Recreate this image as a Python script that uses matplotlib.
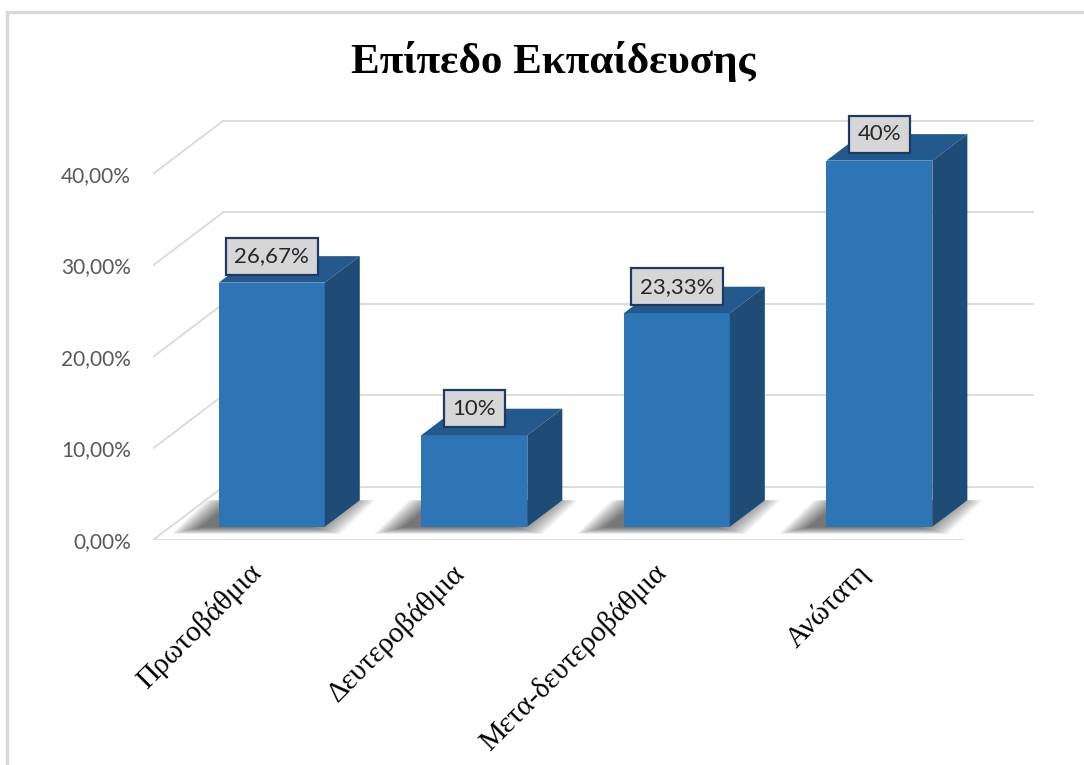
import numpy as np
import matplotlib.pyplot as plt
from matplotlib.patches import Polygon, Rectangle
from matplotlib.ticker import FuncFormatter

plt.rcParams["font.family"] = ["Lato", "DejaVu Sans"]

# -------------------------------------------
# Data
# -------------------------------------------
categories = ["Πρωτοβάθμια", "Δευτεροβάθμια", "Μετα-δευτεροβάθμια", "Ανώτατη"]
values = [26.67, 10.0, 23.33, 40.0]
value_labels = ["26,67%", "10%", "23,33%", "40%"]
yticks = [0, 10, 20, 30, 40]
title = "Επίπεδο Εκπαίδευσης"

# colours
front_col = "#2E75B6"
top_col = "#23598D"
side_col = "#1F4B77"
grid_col = "#D9D9D9"

# -------------------------------------------
# Fake 3D geometry (depth offsets in data units)
# -------------------------------------------
px_x = 1 / 202.5      # one pixel in category units
px_y = 1 / 9.15       # one pixel in percent units
dx = 70 * px_x        # full depth of the floor / wall
dy = 53 * px_y
bar_w = 106 * px_x
f0, f1 = 0.25, 0.75   # bars sit between these depth fractions

fig = plt.figure(figsize=(10.84, 7.65), dpi=100)
ax = fig.add_axes([153 / 1084, 225 / 765, 881 / 1084, 421 / 765])
ax.set_xlim(-0.5, 3.85)
ax.set_ylim(0, 46)
for s in ax.spines.values():
    s.set_visible(False)

# chart frame
fig.patches.append(Rectangle((7 / 1084, -0.05), 1.1, (765 - 12) / 765 + 0.05,
                             transform=fig.transFigure, fill=False,
                             edgecolor="#D9D9D9", linewidth=2.5, zorder=0))

# back wall gridlines + left wall diagonals
x0, x1 = -0.5, len(categories) - 0.5
for v in yticks:
    ax.plot([x0 + dx, x1 + dx], [v + dy, v + dy], color=grid_col, lw=1.3, zorder=1)
    ax.plot([x0, x0 + dx], [v, v + dy], color=grid_col, lw=1.3, zorder=1)
# front edge of the floor
ax.plot([x0, x1], [0, 0], color=grid_col, lw=1.3, zorder=1)

# -------------------------------------------
# Bars
# -------------------------------------------
xs = np.arange(len(categories))
bx = xs + f0 * dx
b0 = f0 * dy
hdx = (f1 - f0) * dx
hdy = (f1 - f0) * dy

# soft shadows on the floor
for i, v in enumerate(values):
    xl = bx[i] - bar_w / 2
    xr = bx[i] + bar_w / 2
    for k in range(12):
        e = (12 - k) * 2.6 * px_x
        ey = (12 - k) * 0.6 * px_y
        sh = -16 * px_x
        poly = [(xl - e + sh, b0 - ey), (xr + e + sh, b0 - ey),
                (xr + hdx + e + sh, b0 + hdy), (xl + hdx - e + sh, b0 + hdy)]
        ax.add_patch(Polygon(poly, closed=True, facecolor="black",
                             edgecolor="none", alpha=0.06, zorder=2))

ax.bar(bx, values, width=bar_w, bottom=b0, color=front_col,
       edgecolor="none", zorder=3)

for i, v in enumerate(values):
    xl = bx[i] - bar_w / 2
    xr = bx[i] + bar_w / 2
    top = v + b0
    ax.add_patch(Polygon([(xl, top), (xr, top), (xr + hdx, top + hdy), (xl + hdx, top + hdy)],
                         closed=True, facecolor=top_col, edgecolor="none", zorder=3))
    ax.add_patch(Polygon([(xr, b0), (xr, top), (xr + hdx, top + hdy), (xr + hdx, b0 + hdy)],
                         closed=True, facecolor=side_col, edgecolor="none", zorder=3))
    ax.text(bx[i], top + hdy, value_labels[i], ha="center", va="center",
            fontsize=16, color="#262626", zorder=5,
            bbox=dict(boxstyle="square,pad=0.38", facecolor="#D6D6D6",
                      edgecolor="#1F3864", linewidth=1.6))

# -------------------------------------------
# Axes text
# -------------------------------------------
ax.set_yticks(yticks)
ax.yaxis.set_major_formatter(FuncFormatter(lambda v, p: f"{v:.2f}%".replace(".", ",")))
ax.tick_params(axis="y", length=0, pad=16, labelsize=15, labelcolor="#595959")

ax.set_xticks(xs - 0.03)
ax.set_xticklabels(categories, rotation=45, ha="right", rotation_mode="anchor",
                   family="Liberation Serif", fontsize=21, color="black")
ax.tick_params(axis="x", length=0, pad=14)

fig.text(553 / 1084, (765 - 73) / 765, title, ha="center", va="baseline",
         fontsize=31, fontweight="bold", family="Liberation Serif")

fig.savefig("out.png", dpi=100)
